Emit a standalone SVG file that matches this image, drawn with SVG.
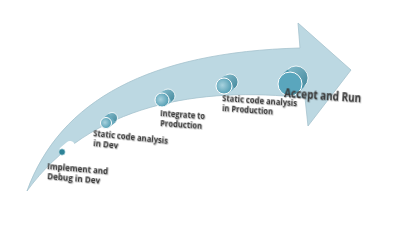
<svg xmlns="http://www.w3.org/2000/svg" width="400" height="231" viewBox="0 0 400 231">
<defs>
<radialGradient id="g" cx="0.4" cy="0.45" r="0.6">
<stop offset="0" stop-color="#a8d2de"/>
<stop offset="1" stop-color="#4f9bb1"/>
</radialGradient>
<linearGradient id="bk" x1="0" y1="0" x2="1" y2="1">
<stop offset="0" stop-color="#8cc0cf"/>
<stop offset="1" stop-color="#3d8499"/>
</linearGradient>
<filter id="sh" x="-10%" y="-30%" width="120%" height="160%">
<feDropShadow dx="0.6" dy="0.8" stdDeviation="0.4" flood-color="#000" flood-opacity="0.35"/>
</filter>
</defs>
<style>
.lbl{font-family:"Open Sans","Liberation Sans",sans-serif;font-weight:700;fill:#3b3b3b;filter:url(#sh)}
.s{font-size:8.4px}
.b{font-size:11.5px;font-weight:700}
.back{fill:url(#bk);stroke:#ffffff;stroke-width:0.8}
.front{fill:url(#g);stroke:#ffffff;stroke-width:1}
</style>
<g id="arrow">
<path d="M27,191 C60,100 150,52 300,48 L298,23 L351,70 L308,126 L305,98 C200,86 90,104 27,191 Z" fill="#bcd8e2" stroke="#a6c3ce" stroke-width="0.8"/>
</g>
<g id="connectors"></g>
<g id="n1">
<line x1="64" y1="151" x2="70" y2="146" stroke="#ffffff" stroke-width="10" stroke-linecap="round"/>
<circle cx="62" cy="152" r="3.2" fill="#2e8397" stroke="#d8eef3" stroke-width="0.6"/>
<text class="lbl s" transform="translate(47,169) rotate(5)" textLength="61" lengthAdjust="spacingAndGlyphs">Implement  and</text>
<text class="lbl s" transform="translate(47,179) rotate(5)" textLength="53" lengthAdjust="spacingAndGlyphs">Debug in Dev</text>
</g>
<g id="n2">
<circle cx="112" cy="118" r="5.5" class="back"/>
<line x1="106" y1="123" x2="112" y2="118" stroke="#6aaabd" stroke-width="11"/>
<circle cx="106" cy="123" r="5.5" class="front"/>
<text class="lbl s" transform="translate(93,136) rotate(6)" textLength="75" lengthAdjust="spacingAndGlyphs">Static code analysis</text>
<text class="lbl s" transform="translate(93,146) rotate(6)" textLength="25" lengthAdjust="spacingAndGlyphs">in Dev</text>
</g>
<g id="n3">
<circle cx="168" cy="96" r="7" class="back"/>
<line x1="162" y1="100" x2="168" y2="96" stroke="#79b3c4" stroke-width="14"/>
<circle cx="162" cy="100" r="7" class="front"/>
<text class="lbl s" transform="translate(160,116) rotate(4)" textLength="45" lengthAdjust="spacingAndGlyphs">Integrate to</text>
<text class="lbl s" transform="translate(160,126) rotate(4)" textLength="42" lengthAdjust="spacingAndGlyphs">Production</text>
</g>
<g id="n4">
<circle cx="230" cy="82" r="8" class="back"/>
<line x1="224" y1="86" x2="230" y2="82" stroke="#7ab4c5" stroke-width="16"/>
<circle cx="224" cy="86" r="8" class="front"/>
<text class="lbl s" transform="translate(222,101) rotate(4)" textLength="75" lengthAdjust="spacingAndGlyphs">Static code analysis</text>
<text class="lbl s" transform="translate(222,111) rotate(4)" textLength="51" lengthAdjust="spacingAndGlyphs">in Production</text>
</g>
<g id="n5">
<circle cx="296" cy="78" r="12" class="back"/>
<line x1="290" y1="84" x2="296" y2="78" stroke="#4d98ae" stroke-width="24"/>
<circle cx="290" cy="84" r="12" fill="#5aa6bd" stroke="#ffffff" stroke-width="1"/>
<text class="lbl b" transform="translate(284,97) rotate(4)" textLength="77" lengthAdjust="spacingAndGlyphs">Accept and Run</text>
</g>
</svg>
